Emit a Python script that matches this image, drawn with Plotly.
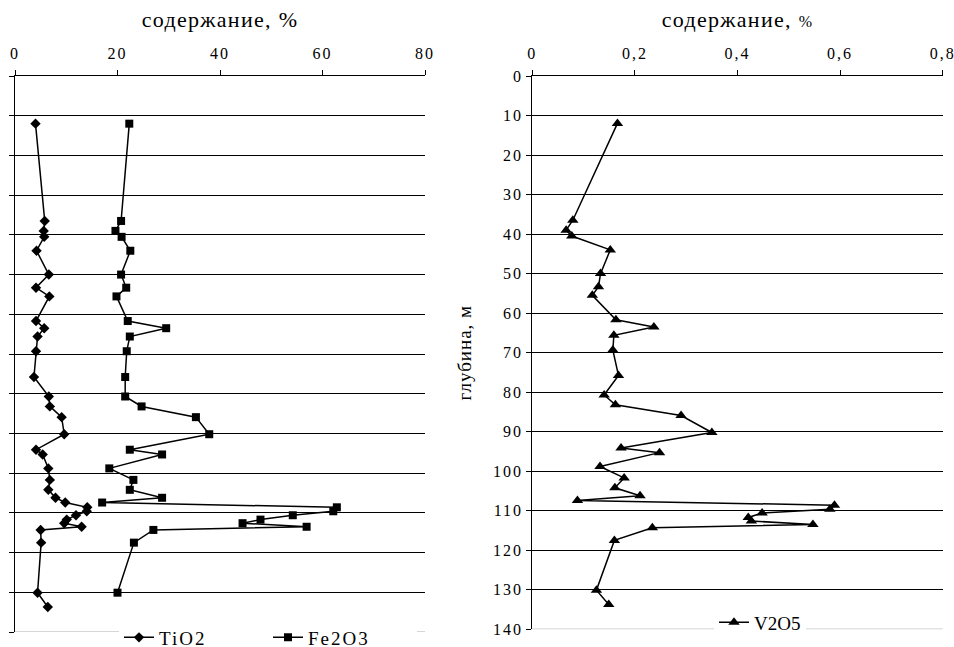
import plotly.graph_objects as go

depth = [12, 36.5, 39, 40.5, 44, 50, 53.3, 55.5, 61.7, 63.5, 65.6, 69.3, 75.8, 80.7,
         83.2, 85.9, 90.2, 94.1, 95.3, 98.8, 101.7, 104.2, 106.2, 107.4, 108.6, 109.6,
         110.6, 111.7, 112.6, 113.5, 114.3, 117.5, 130.1, 133.7]
tio2 = [4.0, 5.8, 5.6, 5.7, 4.2, 6.6, 4.1, 6.7, 4.1, 5.7, 4.4, 4.1, 3.7, 6.6, 6.8,
        9.1, 9.6, 4.1, 5.4, 6.5, 6.8, 6.5, 7.9, 9.8, 14.1, 14.0, 11.9, 10.1, 9.6,
        13.0, 5.0, 5.1, 4.4, 6.4]
fe2o3 = [22.3, 20.7, 19.6, 20.8, 22.5, 20.7, 21.7, 19.8, 22.0, 29.5, 22.4, 21.8,
         21.5, 21.5, 24.7, 35.3, 37.9, 22.4, 28.7, 18.4, 23.1, 22.4, 28.7, 17.0,
         62.8, 62.1, 54.2, 47.9, 44.4, 56.9, 27.0, 23.2, 20.0, None]
v2o5 = [0.166, 0.079, 0.066, 0.077, 0.152, 0.133, 0.129, 0.117, 0.163, 0.237,
        0.159, 0.157, 0.168, 0.140, 0.162, 0.290, 0.350, 0.173, 0.248, 0.132,
        0.179, 0.161, 0.210, 0.088, 0.589, 0.580, 0.448, 0.421, 0.427, 0.547,
        0.234, 0.160, 0.125, 0.149]

x1_ticks = [0, 20, 40, 60, 80]
x2_ticks = [0, 0.2, 0.4, 0.6, 0.8]
x2_labels = ["0", "0,2", "0,4", "0,6", "0,8"]
depth_ticks = list(range(0, 141, 10))

FONT = "Liberation Serif"
W, H = 954, 647


def px(X):
    return X / W


def py(Y):
    return 1 - Y / H


fig = go.Figure()
fig.add_trace(go.Scatter(x=tio2, y=depth, name="TiO2", mode="lines+markers",
                         line=dict(color="black", width=1.5),
                         marker=dict(symbol="diamond", size=8, color="black"),
                         xaxis="x", yaxis="y", legend="legend"))
fig.add_trace(go.Scatter(x=fe2o3, y=depth, name="Fe2O3", mode="lines+markers",
                         line=dict(color="black", width=1.5),
                         marker=dict(symbol="square", size=8, color="black"),
                         xaxis="x", yaxis="y", legend="legend"))
fig.add_trace(go.Scatter(x=v2o5, y=depth, name="V2O5", mode="lines+markers",
                         line=dict(color="black", width=1.5),
                         marker=dict(symbol="triangle-up", size=10, color="black"),
                         xaxis="x2", yaxis="y2", legend="legend2"))

axfont = dict(family=FONT, size=16, color="black")
common_x = dict(side="top", ticks="outside", ticklen=5, tickcolor="black",
                showline=True, linecolor="black", linewidth=1, showgrid=False,
                zeroline=False, tickfont=axfont, automargin=False,
                ticklabelstandoff=5)
common_y = dict(autorange=False, ticks="outside", ticklen=5, tickcolor="black",
                tickvals=depth_ticks, showline=True, linecolor="black", linewidth=1,
                showgrid=True, gridcolor="black", gridwidth=1, zeroline=False,
                tickfont=axfont, automargin=False)
tfont = dict(family=FONT, size=22, color="black")

fig.update_layout(
    width=W, height=H,
    margin=dict(l=0, r=0, t=0, b=0, autoexpand=False),
    paper_bgcolor="white", plot_bgcolor="white",
    font=dict(family=FONT, color="black"),
    xaxis=dict(domain=[px(15), px(425)], range=[0, 80], tickvals=x1_ticks,
               anchor="y",
               title=dict(text="содержание, %", font=tfont, standoff=10),
               **common_x),
    yaxis=dict(domain=[py(632), py(76)], range=[140, 0],
               showticklabels=False, anchor="x", **common_y),
    xaxis2=dict(domain=[px(532.3), px(942.7)], range=[0, 0.8], tickvals=x2_ticks,
                ticktext=x2_labels, anchor="y2",
                title=dict(text="содержание, <span style='font-size:16px'>%</span>",
                           font=tfont, standoff=10),
                **common_x),
    yaxis2=dict(domain=[py(629.3), py(76)], range=[140, 0],
                showticklabels=True, anchor="x2", ticklabelstandoff=0,
                title=dict(text="глубина, м", font=dict(family=FONT, size=19, color="black"),
                           standoff=22),
                **common_y),
    legend=dict(orientation="h", x=px(119), y=py(637.5), xanchor="left",
                yanchor="middle", bgcolor="white", font=dict(family=FONT, size=19),
                entrywidth=104, itemwidth=30),
    legend2=dict(orientation="h", x=px(760), y=py(622.5), xanchor="center",
                 yanchor="middle", bgcolor="white", font=dict(family=FONT, size=19),
                 itemwidth=30),
    shapes=[
        dict(type="line", xref="x domain", yref="y", x0=0, x1=1, y0=140, y1=140,
             line=dict(color="#c8c8c8", width=1.5), layer="above"),
        dict(type="line", xref="x2 domain", yref="y2", x0=0, x1=1, y0=140, y1=140,
             line=dict(color="#c8c8c8", width=1.5), layer="above"),
    ],
)

post = (
    "document.documentElement.style.margin = '0';"
    "document.documentElement.style.overflow = 'hidden';"
    "document.body.style.margin = '0';"
    "document.body.style.overflow = 'hidden';"
    "var gd = document.getElementById('{plot_id}');"
    "function ls(sel, v) { gd.querySelectorAll(sel).forEach(function (t) { t.style.letterSpacing = v; }); }"
    "ls('.xtick text, .x2tick text, .ytick text, .y2tick text', '2px');"
    "ls('text.xtitle, text.x2title', '1.3px');"
    "ls('text.y2title', '1px');"
    "ls('text.legendtext', '2px');"
)

fig.write_html("out.html", post_script=post, config={"displayModeBar": False})
